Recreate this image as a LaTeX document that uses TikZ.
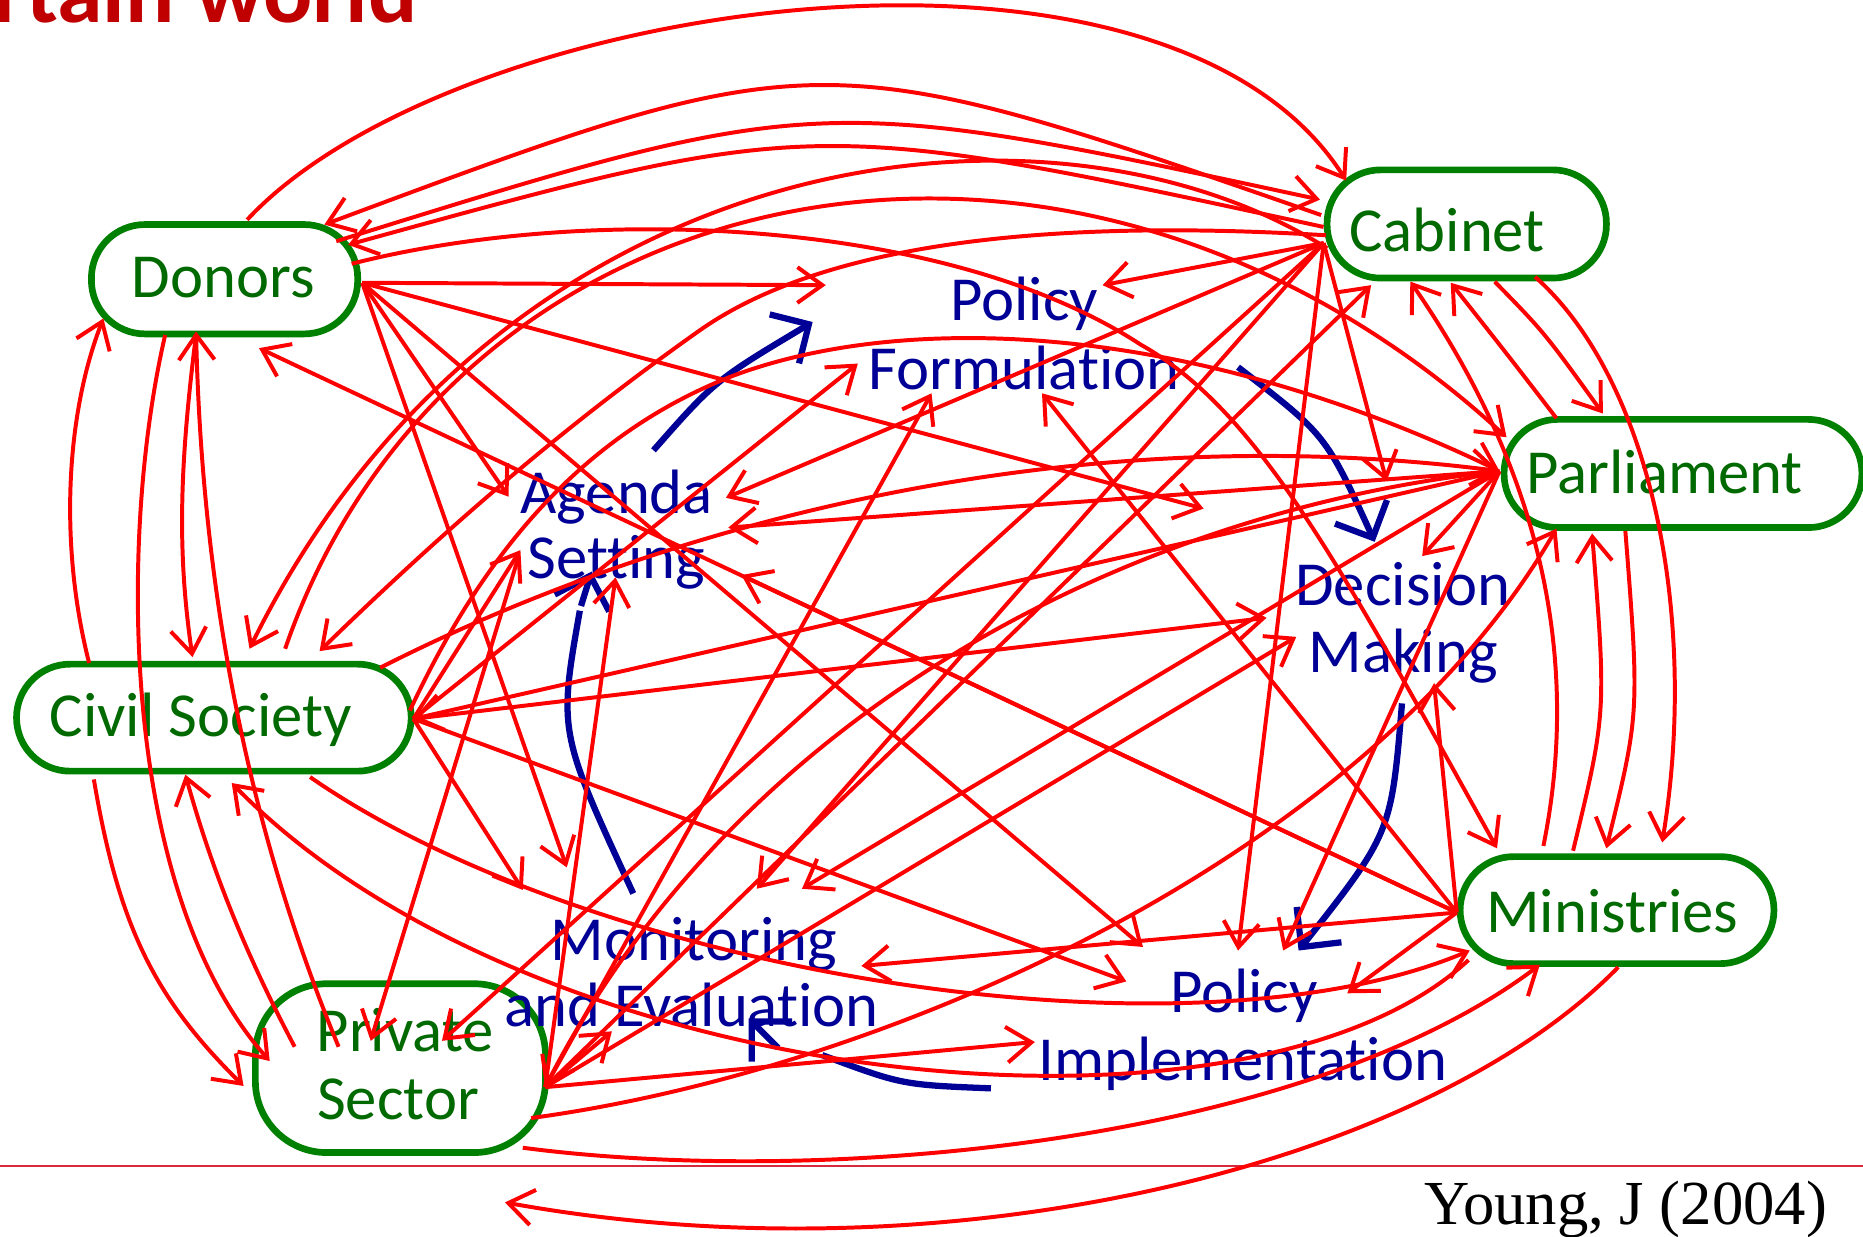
\documentclass[tikz,border=0pt]{standalone}
\usepackage{fontspec}
\setmainfont{Carlito}[RawFeature={-liga;-clig;-calt;-dlig}]
\newfontfamily\citefont{Liberation Serif}
\usetikzlibrary{arrows.meta,calc}
\definecolor{linkred}{RGB}{255,0,0}
\definecolor{actorgreen}{RGB}{0,128,0}
\definecolor{actortext}{RGB}{0,105,0}
\definecolor{stagenavy}{RGB}{0,0,150}
\definecolor{titlered}{RGB}{192,0,0}
\definecolor{rulered}{RGB}{215,40,60}
\begin{document}
\begin{tikzpicture}[x=0.01cm,y=-0.01cm,
  actor/.style={draw=actorgreen,line width=1.6pt,rounded corners=0.45cm,inner sep=0pt},
  actorlabel/.style={text=actortext,font=\fontsize{15}{18}\selectfont,anchor=base,inner sep=0pt},
  stagelabel/.style={text=stagenavy,font=\fontsize{15}{18}\selectfont,anchor=base,inner sep=0pt},
  link/.style={draw=linkred,line width=0.95pt,-{Straight Barb[length=2.1mm,width=3mm]}},
  cyclearrow/.style={draw=stagenavy,line width=1.5pt,-{Straight Barb[length=2.4mm,width=4.8mm]}},
  cycleline/.style={draw=stagenavy,line width=1.5pt}]
\useasboundingbox (0,0) rectangle (1568,1041);
\fill[white] (0,0) rectangle (1568,1041);

% heading fragment and source line
\node[anchor=base west,text=titlered,font=\bfseries\fontsize{22}{26}\selectfont,inner sep=0pt] (title) at (-6,19) {rtain world};
\draw[rulered,line width=0.5pt] (0,981) -- (1568,981);
\node[anchor=base west,font=\citefont\fontsize{15}{18}\selectfont,inner sep=0pt] (cite) at (1198,1031) {Young, J (2004)};

% actors
\node[actor,minimum width=2.24cm,minimum height=0.92cm] (don) at (189,235) {};
\node[actor,minimum width=2.35cm,minimum height=0.91cm] (cab) at (1234.5,188.5) {};
\node[actor,minimum width=3.01cm,minimum height=0.91cm] (par) at (1416.5,398.5) {};
\node[actor,minimum width=2.64cm,minimum height=0.90cm] (min) at (1361,766) {};
\node[actor,minimum width=3.32cm,minimum height=0.90cm] (cs) at (180,604) {};
\node[actor,minimum width=2.44cm,minimum height=1.42cm,rounded corners=0.6cm] (ps) at (337,899) {};

\node[actorlabel] (donT) at (188,250) {Donors};
\node[actorlabel] (cabT) at (1218,212) {Cabinet};
\node[actorlabel] (parT) at (1401,415) {Parliament};
\node[actorlabel] (minT) at (1357,785) {Ministries};
\node[actorlabel] (csT) at (169,620) {Civil Society};
\node[actorlabel] (psTa) at (341,885) {Private};
\node[actorlabel] (psTb) at (335,942) {Sector};

% policy stages
\node[stagelabel] (pfA) at (862,270) {Policy};
\node[stagelabel] (pfB) at (862,328) {Formulation};
\node[stagelabel] (asA) at (519,432) {Agenda};
\node[stagelabel] (asB) at (519,487) {Setting};
\node[stagelabel] (dmA) at (1181,510) {Decision};
\node[stagelabel] (dmB) at (1181,566) {Making};
\node[stagelabel] (meA) at (584,808) {Monitoring};
\node[stagelabel] (meB) at (582,864) {and Evaluation};
\node[stagelabel] (piA) at (1047,852) {Policy};
\node[stagelabel] (piB) at (1046,909) {Implementation};

% the policy cycle
\draw[cyclearrow] (550,379) .. controls (602,320) .. (684,271);
\draw[cyclearrow] (1042,309) .. controls (1116,366) .. (1157,456);
\draw[cyclearrow] (1180,592) .. controls (1171,701) .. (1093,800);
\draw[cycleline] (834,916) .. controls (759,913) .. (692,888);
\draw[cyclearrow] (655,882) -- (630,857);
\draw[cycleline] (533,752) .. controls (470,616) .. (488,514);
\draw[cyclearrow] (489,510) -- (498,481);

% hubs where many links meet
\coordinate (Dh) at ($(don.east)+(1,3)$);
\coordinate (Ch) at ($(cab.west)+(0,16)$);
\coordinate (Ph) at ($(par.west)+(-1,-2)$);
\coordinate (Mh) at ($(min.west)+(0,2)$);
\coordinate (CSh) at ($(cs.east)+(-1,1)$);
\coordinate (PSh) at ($(ps.east)+(-3,16)$);

% Donors
\draw[link] (Dh) -- (695,240);
\draw[link] (Dh) -- (1013,428);
\draw[link] (Dh) -- (428,418);
\draw[link] (Dh) -- (477,730);
\draw[link] (Dh) -- (962,797);

% arcs over the top
\draw[link] (208,185) .. controls (380,0) and (980,-90) .. (1133,152);
\draw[link] (1112,181) .. controls (689,34) .. (273,189);
\draw[link] (283,203) .. controls (688,77) .. (1111,168);
\draw[link] (1114,191) .. controls (685,98) .. (293,206);
\draw[link] (296,222) .. controls (500,170) and (800,185) .. (960,290) .. controls (1060,346) and (1130,480) .. (1260,714);

% Cabinet and Civil Society arcs
\draw[link] (1117,209) .. controls (880,60) and (420,120) .. (210,546);
\draw[link] (240,546) .. controls (380,140) and (900,30) .. (1268,368);
\draw[link] (1116,198) .. controls (900,185) and (700,200) .. (589,278) .. controls (480,355) and (380,440) .. (269,548);

% Cabinet fan
\draw[link] (Ch) -- (928,240);
\draw[link] (Ch) -- (611,419);
\draw[link] (Ch) -- (637,748);
\draw[link] (Ch) -- (372,876);
\draw[link] (Ch) -- (1167,405);
\draw[link] (Ch) -- (1042,800);

% Cabinet, Parliament, Ministries
\draw[link] (1299,712) .. controls (1330,560) and (1300,400) .. (1187,237);
\draw[link] (1310,352) .. controls (1270,300) .. (1221,238);
\draw[link] (1258,237) .. controls (1300,280) .. (1349,348);
\draw[link] (1292,233) .. controls (1390,320) and (1430,520) .. (1399,709);
\draw[link] (1324,716) .. controls (1352,600) .. (1340,449);
\draw[link] (1368,447) .. controls (1380,600) .. (1352,714);

% Parliament fan
\draw[link] (Ph) -- (613,444);
\draw[link] (Ph) -- (675,748);
\draw[link] (Ph) -- (1197,468);
\draw[link] (Ph) -- (1080,800);
\draw[link] (Ph) -- (CSh);
\draw[link] (320,562) .. controls (560,440) and (900,350) .. (Ph);
\draw[link] (345,598) .. controls (400,480) and (480,370) .. (615,317) .. controls (760,262) and (1000,270) .. (Ph);
\draw[link] (Ph) .. controls (950,430) and (620,600) .. (PSh);

% Private Sector
\draw[link] (PSh) -- (1154,240);
\draw[link] (PSh) -- (784,331);
\draw[link] (PSh) -- (518,486);
\draw[link] (PSh) -- (1091,536);
\draw[link] (PSh) -- (515,868);
\draw[link] (PSh) -- (871,877);
\draw[link] (447,941) .. controls (750,900) and (1150,720) .. (1310,445);
\draw[link] (440,966) .. controls (700,1000) and (1100,960) .. (1296,812);
\draw[link] (1362,814) .. controls (1200,980) and (800,1080) .. (425,1012);
\draw[link] (436,470) -- (312,876);

% Civil Society
\draw[link] (CSh) -- (438,463);
\draw[link] (CSh) -- (722,306);
\draw[link] (CSh) -- (1066,520);
\draw[link] (CSh) -- (440,749);
\draw[link] (CSh) -- (948,826);
\draw[link] (261,654) .. controls (500,820) and (1000,900) .. (1237,800);
\draw[link] (1236,808) .. controls (1050,980) and (450,920) .. (195,659);

% left-hand column
\draw[link] (75,558) .. controls (50,460) and (55,350) .. (87,268);
\draw[link] (165,282) .. controls (150,400) and (150,470) .. (162,553);
\draw[link] (79,656) .. controls (100,780) and (130,840) .. (205,914);
\draw[link] (248,881) .. controls (200,790) and (175,720) .. (156,652);
\draw[link] (139,282) .. controls (100,450) and (100,750) .. (227,893);
\draw[link] (285,881) .. controls (210,700) and (170,500) .. (165,279);

% Ministries fan
\draw[link] (Mh) -- (218,293);
\draw[link] (Mh) -- (725,813);
\draw[link] (Mh) -- (1134,836);
\draw[link] (Mh) -- (624,484);
\draw[link] (Mh) -- (877,331);
\draw[link] (Mh) -- (1207,575);
\end{tikzpicture}
\end{document}
